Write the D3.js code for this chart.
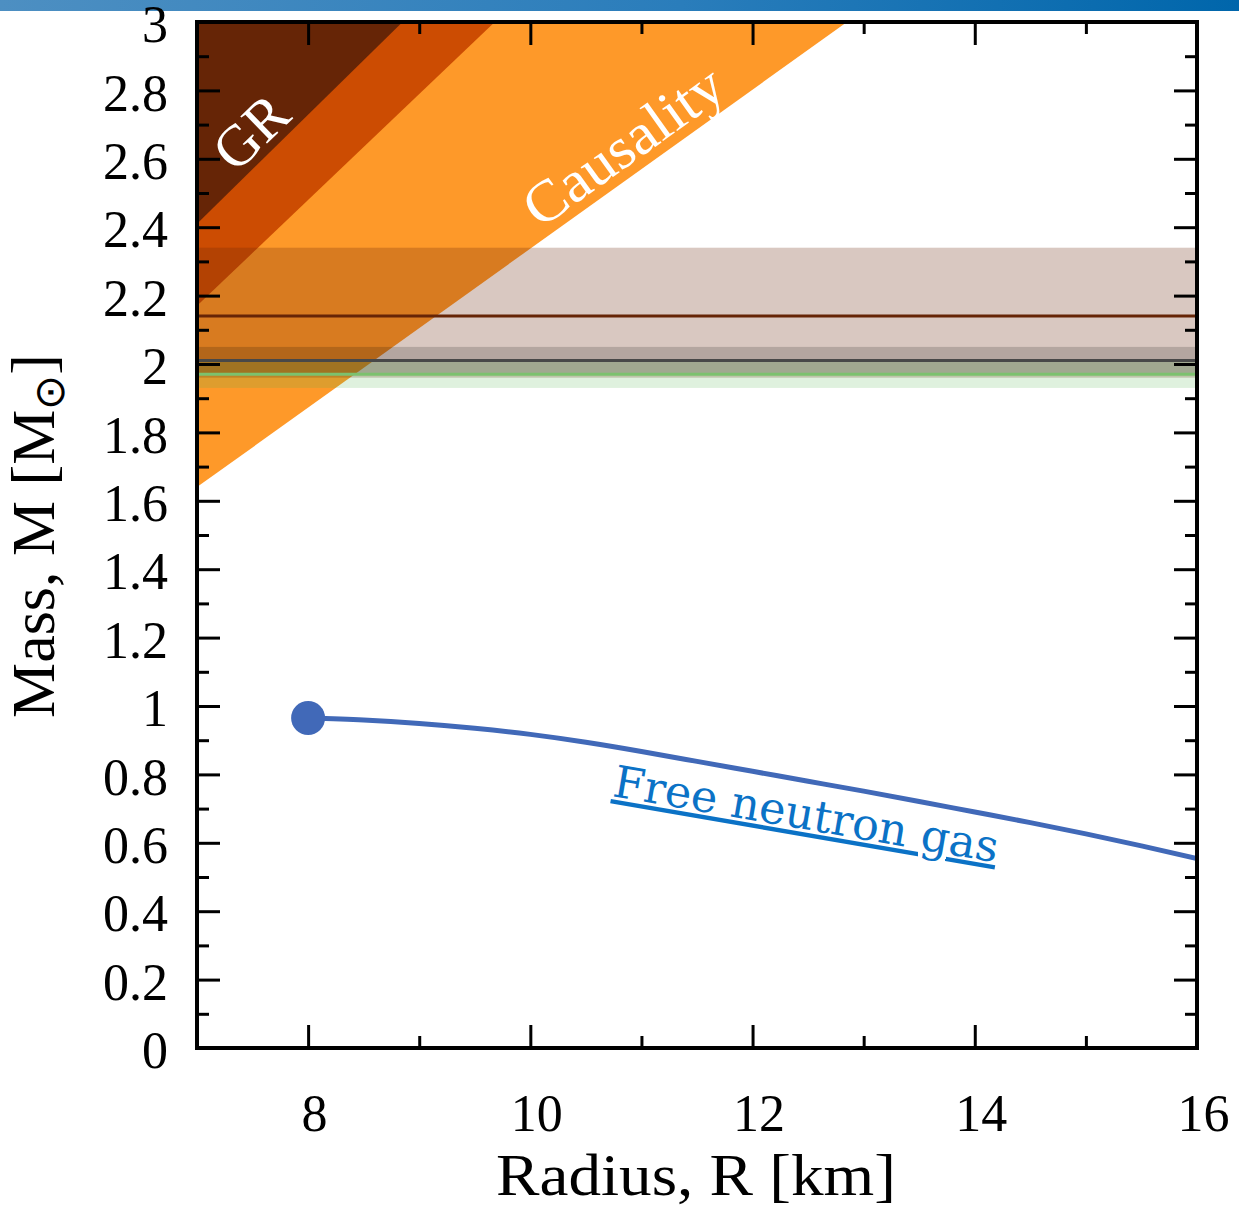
<!DOCTYPE html>
<html lang="en">
<head>
  <meta charset="UTF-8">
  <title>Neutron star mass-radius</title>
  <style>
    body { margin: 0; padding: 0; background: #fff; }
    svg { display: block; }
    .serif { font-family: "Palatino Linotype", Palatino, "Liberation Serif", serif; }
    .tick text { font-family: "Palatino Linotype", Palatino, "Liberation Serif", serif; font-size: 52px; fill: #000; }
    .tick line { stroke: #000; stroke-width: 3px; }
    .domain { display: none; }
  </style>
</head>
<body>
<div id="chart"></div>

<script src="https://d3js.org/d3.v7.min.js"></script>
<script>
  // Data
  const xMajor = [8, 10, 12, 14, 16];
  const xMinor = [9, 11, 13, 15];
  const yMajor = [0, 0.2, 0.4, 0.6, 0.8, 1, 1.2, 1.4, 1.6, 1.8, 2, 2.2, 2.4, 2.6, 2.8, 3];
  const yLabels = ["0", "0.2", "0.4", "0.6", "0.8", "1", "1.2", "1.4", "1.6", "1.8", "2", "2.2", "2.4", "2.6", "2.8", "3"];
  const yMinor = [0.1, 0.3, 0.5, 0.7, 0.9, 1.1, 1.3, 1.5, 1.7, 1.9, 2.1, 2.3, 2.5, 2.7, 2.9];

  // excluded regions: lower boundary line (R, M) from left edge to top edge
  const regionNames = ["Causality", "Finite pressure", "GR"];
  const regionStart = [[7, 1.64], [7, 2.17], [7, 2.41]];
  const regionEnd = [[12.85, 3], [9.68, 3], [8.85, 3]];

  // pulsar mass measurements
  const pulsarNames = ["J0740+6620", "J0348+0432", "J1614-2230"];
  const pulsarMass = [2.14, 2.01, 1.97];
  const pulsarLow = [1.96, 1.97, 1.93];
  const pulsarHigh = [2.34, 2.05, 2.01];

  // free neutron gas M(R)
  const gasRadius = [8, 8.5, 9, 9.5, 10, 10.5, 11, 11.5, 12, 12.5, 13, 13.5, 14, 14.5, 15, 15.5, 16];
  const gasMass = [0.965, 0.959, 0.949, 0.935, 0.917, 0.894, 0.867, 0.838, 0.809, 0.780, 0.751, 0.721, 0.690, 0.659, 0.626, 0.591, 0.554];

  const regionColors = ["#fe9929", "#cc4c02", "#662506"];
  const bandColors = ["#662506", "#000000", "#4daf4a"];
  const bandOpacity = [0.25, 0.17, 0.18];
  const lineColors = ["#662506", "#484848", "#7cc16e"];

  const width = 1239, height = 1208;
  const plotL = 197, plotR = 1197, plotT = 22, plotB = 1048;

  const svg = d3.select("#chart").append("svg")
      .attr("width", width)
      .attr("height", height);

  const defs = svg.append("defs");
  const grad = defs.append("linearGradient").attr("id", "banner");
  grad.append("stop").attr("offset", "0%").attr("stop-color", "#4d8fc2");
  grad.append("stop").attr("offset", "55%").attr("stop-color", "#2a7dbb");
  grad.append("stop").attr("offset", "100%").attr("stop-color", "#0066ab");
  defs.append("clipPath").attr("id", "plot")
    .append("rect").attr("x", plotL).attr("y", plotT)
    .attr("width", plotR - plotL).attr("height", plotB - plotT);

  // slide banner strip at the very top
  svg.append("rect").attr("x", 0).attr("y", 0).attr("width", width).attr("height", 11)
    .attr("fill", "url(#banner)");

  const x = d3.scaleLinear().domain([7, 16]).range([plotL, plotR]);
  const y = d3.scaleLinear().domain([0, 3]).range([plotB, plotT]);

  const plot = svg.append("g").attr("clip-path", "url(#plot)");

  // excluded regions
  regionNames.forEach((name, i) => {
    const pts = [regionStart[i], regionEnd[i], [7, 3]];
    plot.append("path")
      .attr("d", d3.line().x(d => x(d[0])).y(d => y(d[1]))(pts) + "Z")
      .attr("fill", regionColors[i]);
  });

  // pulsar bands + central lines
  pulsarNames.forEach((name, i) => {
    plot.append("rect")
      .attr("x", x(7)).attr("width", x(16) - x(7))
      .attr("y", y(pulsarHigh[i])).attr("height", y(pulsarLow[i]) - y(pulsarHigh[i]))
      .attr("fill", bandColors[i]).attr("fill-opacity", bandOpacity[i]);
  });
  pulsarNames.forEach((name, i) => {
    plot.append("line")
      .attr("x1", x(7)).attr("x2", x(16))
      .attr("y1", y(pulsarMass[i])).attr("y2", y(pulsarMass[i]))
      .attr("stroke", lineColors[i]).attr("stroke-width", 3);
  });

  // free neutron gas curve
  const gas = gasRadius.map((r, i) => [r, gasMass[i]]);
  plot.append("path")
    .attr("d", d3.line().curve(d3.curveNatural).x(d => x(d[0])).y(d => y(d[1]))(gas))
    .attr("fill", "none").attr("stroke", "#4169b8").attr("stroke-width", 5);
  plot.append("circle")
    .attr("cx", x(gas[0][0])).attr("cy", y(gas[0][1])).attr("r", 17)
    .attr("fill", "#4169b8");

  // region labels
  svg.append("text").attr("class", "serif")
    .attr("transform", `translate(${x(7.48)},${y(2.68)}) rotate(-44)`)
    .attr("text-anchor", "middle").attr("dy", "0.35em")
    .attr("font-size", 58).attr("fill", "#fff")
    .text("GR");
  svg.append("text").attr("class", "serif")
    .attr("transform", `translate(${x(10.83)},${y(2.64)}) rotate(-35.6)`)
    .attr("text-anchor", "middle").attr("dy", "0.35em")
    .attr("font-size", 58).attr("fill", "#fff")
    .attr("textLength", 232).attr("lengthAdjust", "spacingAndGlyphs")
    .text("Causality");

  svg.append("text")
    .attr("transform", `translate(${x(10.73)},${y(0.737)}) rotate(9.8)`)
    .attr("font-family", "'DejaVu Serif', serif")
    .attr("font-size", 44).attr("fill", "#0b72c6")
    .attr("text-decoration", "underline")
    .attr("textLength", 390).attr("lengthAdjust", "spacingAndGlyphs")
    .text("Free neutron gas");

  // axes: inward ticks on all sides
  const major = 23, minor = 12;
  svg.append("g").attr("transform", `translate(0,${plotB})`)
    .call(d3.axisBottom(x).tickValues(xMajor).tickSize(-major).tickPadding(46).tickFormat(d3.format("d")))
    .selectAll("text").attr("dx", 6);
  svg.append("g").attr("transform", `translate(0,${plotB})`)
    .call(d3.axisBottom(x).tickValues(xMinor).tickSize(-minor).tickFormat(""));
  svg.append("g").attr("transform", `translate(0,${plotT})`)
    .call(d3.axisTop(x).tickValues(xMajor).tickSize(-major).tickFormat(""));
  svg.append("g").attr("transform", `translate(0,${plotT})`)
    .call(d3.axisTop(x).tickValues(xMinor).tickSize(-minor).tickFormat(""));

  svg.append("g").attr("transform", `translate(${plotL},0)`)
    .call(d3.axisLeft(y).tickValues(yMajor).tickSize(-major).tickPadding(29)
      .tickFormat((d, i) => yLabels[i]))
    .selectAll("text").attr("dy", "0.38em");
  svg.append("g").attr("transform", `translate(${plotL},0)`)
    .call(d3.axisLeft(y).tickValues(yMinor).tickSize(-minor).tickFormat(""));
  svg.append("g").attr("transform", `translate(${plotR},0)`)
    .call(d3.axisRight(y).tickValues(yMajor).tickSize(-major).tickFormat(""));
  svg.append("g").attr("transform", `translate(${plotR},0)`)
    .call(d3.axisRight(y).tickValues(yMinor).tickSize(-minor).tickFormat(""));

  // frame
  svg.append("rect")
    .attr("x", plotL).attr("y", plotT)
    .attr("width", plotR - plotL).attr("height", plotB - plotT)
    .attr("fill", "none").attr("stroke", "#000").attr("stroke-width", 4);

  // axis titles
  svg.append("text").attr("class", "serif")
    .attr("x", 696).attr("y", 1195)
    .attr("text-anchor", "middle").attr("font-size", 60)
    .attr("textLength", 400).attr("lengthAdjust", "spacingAndGlyphs")
    .text("Radius, R [km]");

  const yTitle = svg.append("text").attr("class", "serif")
    .attr("transform", "translate(54,536) rotate(-90)")
    .attr("text-anchor", "middle").attr("font-size", 62);
  yTitle.append("tspan").text("Mass, M [M");
  yTitle.append("tspan").attr("font-size", 42).attr("dy", 10).text("⊙");
  yTitle.append("tspan").attr("dy", -10).text("]");
</script>

</body>
</html>
